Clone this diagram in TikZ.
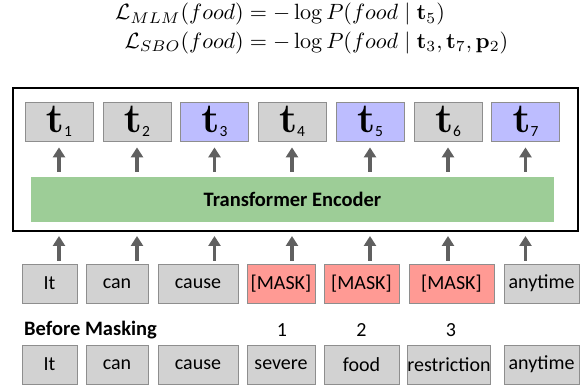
\documentclass[tikz,border=0pt]{standalone}
\usepackage{amsmath}
\usepackage{graphicx}
\usepackage[no-math]{fontspec}
\setmainfont{Carlito}
\usetikzlibrary{arrows.meta,shadows}

\definecolor{boxgray}{HTML}{D2D2D2}
\definecolor{boxedge}{HTML}{8E8E8E}
\definecolor{ctxblue}{HTML}{BDBDFF}
\definecolor{maskred}{HTML}{FF9A94}
\definecolor{encgreen}{HTML}{9DCD97}
\definecolor{arrowgray}{HTML}{606060}

\tikzset{
  tok/.style={draw=boxedge, fill=boxgray, line width=0.8pt, minimum height=39pt,
    inner sep=0pt, font=\fontsize{20}{22}\selectfont,
    drop shadow={shadow xshift=0.9pt, shadow yshift=-0.9pt, opacity=0.3}},
  ctx/.style={fill=ctxblue},
  masked/.style={fill=maskred},
  uparrow/.style={draw=arrowgray, line width=3.4pt,
    -{Triangle[width=12pt,length=10pt]}},
  lbl/.style={font=\fontsize{20}{22}\selectfont, inner sep=0pt},
  boldlbl/.style={font=\fontsize{20.5}{23}\selectfont\bfseries, inner sep=0pt},
}
\newcommand{\tvec}[1]{\scalebox{2}{$\mathbf{t}$}\raisebox{-0.35ex}{\fontsize{15.5}{16}\selectfont #1}}

\begin{document}
\begin{tikzpicture}[x=1pt,y=1pt]
\useasboundingbox (0,0) rectangle (582,-387);

% loss formulas, aligned at the equals sign
\node[anchor=base west, inner sep=0pt] (loss) at (115,-20)
  {\resizebox{393pt}{!}{$\begin{aligned}[t]
    \mathcal{L}_{MLM}(food) &= -\log P(food \mid \mathbf{t}_5)\\[-2pt]
    \mathcal{L}_{SBO}(food) &= -\log P(food \mid \mathbf{t}_3, \mathbf{t}_7, \mathbf{p}_2)
  \end{aligned}$}};

% encoder frame and body
\node[draw=black, line width=2pt, minimum width=565pt, minimum height=143pt, inner sep=0pt]
  (frame) at (295.5,-159.5) {};
\node[boldlbl, fill=encgreen, minimum width=523pt, minimum height=45pt]
  (enc) at (292.5,-199.5) {Transformer Encoder};

% output representations
\node[tok, minimum width=68pt]      (t1) at (59,-121.5)    {\tvec{1}};
\node[tok, minimum width=68pt]      (t2) at (137,-121.5)   {\tvec{2}};
\node[tok, ctx, minimum width=68pt] (t3) at (214.5,-121.5) {\tvec{3}};
\node[tok, minimum width=68pt]      (t4) at (292,-121.5)   {\tvec{4}};
\node[tok, ctx, minimum width=68pt] (t5) at (370,-121.5)   {\tvec{5}};
\node[tok, minimum width=68pt]      (t6) at (448,-121.5)   {\tvec{6}};
\node[tok, ctx, minimum width=68pt] (t7) at (525.5,-121.5) {\tvec{7}};

% masked input sequence
\node[tok, minimum width=55pt]         (i1) at (49.5,-283.5)  {It};
\node[tok, minimum width=62pt]         (i2) at (117,-283.5)   {can};
\node[tok, minimum width=80pt]         (i3) at (198,-283.5)   {cause};
\node[tok, masked, minimum width=68pt] (i4) at (281,-283.5)   {[MASK]};
\node[tok, masked, minimum width=75pt] (i5) at (361.5,-283.5) {[MASK]};
\node[tok, masked, minimum width=85pt] (i6) at (451.5,-283.5) {[MASK]};
\node[tok, minimum width=75pt]         (i7) at (541.5,-283.5) {anytime};

% original sequence
\node[tok, minimum width=55pt] (b1) at (49.5,-364.5)  {It};
\node[tok, minimum width=62pt] (b2) at (117,-364.5)   {can};
\node[tok, minimum width=80pt] (b3) at (198,-364.5)   {cause};
\node[tok, minimum width=68pt] (b4) at (281,-364.5)   {severe};
\node[tok, minimum width=75pt] (b5) at (361.5,-364.5) {food};
\node[tok, minimum width=82pt] (b6) at (449,-364.5)   {restriction};
\node[tok, minimum width=75pt] (b7) at (541.5,-364.5) {anytime};

\node[boldlbl, anchor=west] (before) at (24,-330) {Before Masking};
\node[lbl] (n1) at (282,-330) {1};
\node[lbl] (n2) at (361.5,-330) {2};
\node[lbl] (n3) at (451,-330) {3};

% encoder to outputs
\foreach \k in {1,...,7}
  \draw[uparrow, shorten <=5pt, shorten >=6pt] (t\k |- enc.north) -- (t\k.south);

% inputs into the encoder frame
\foreach \k in {1,...,7}
  \draw[uparrow, shorten <=3pt, shorten >=4pt] (t\k |- i\k.north) -- (t\k |- frame.south);
\end{tikzpicture}
\end{document}
